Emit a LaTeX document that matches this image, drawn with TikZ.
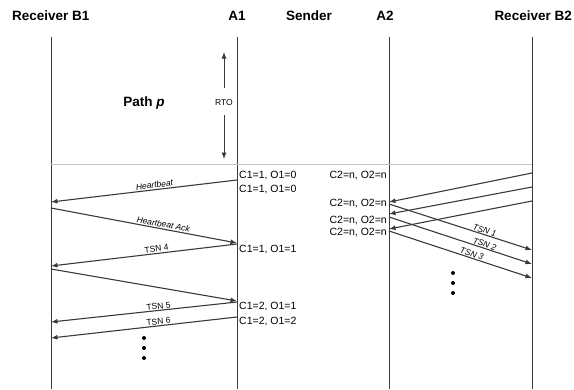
\documentclass[tikz,border=0pt]{standalone}
\usepackage{fontspec}
\setmainfont{Liberation Sans}
\usepackage{xcolor}
\usepackage{tikz}
\usetikzlibrary{positioning, arrows.meta, calc}

\definecolor{linegray}{HTML}{3A3A3A}
\definecolor{rulegray}{HTML}{C4C4C4}

\begin{document}
\begin{tikzpicture}[
        x=1pt, y=-1pt,
        header/.style={
          font=\bfseries\fontsize{13.5}{15}\selectfont,
          inner sep=0pt
        },
        lifeline/.style={draw=linegray, line width=0.9pt},
        msg/.style={
          draw=linegray,
          line width=1.1pt,
          -{Latex[length=6.5pt,width=5pt]}
        },
        msglabel/.style={
          font=\fontsize{8.5}{9}\selectfont,
          sloped,
          above,
          inner sep=1.2pt
        },
        counter/.style={
          font=\fontsize{10.5}{12}\selectfont,
          inner sep=0pt
        },
        dot/.style={circle, fill=black, inner sep=0pt, minimum size=4pt}
      ]
        \useasboundingbox (0,0) rectangle (574,389);

        % headers
        \node[header, anchor=west] (recvb1) at (12,16) {Receiver B1};
        \node[header] (pa1) at (237,16) {A1};
        \node[header] (sender) at (309,16) {Sender};
        \node[header] (pa2) at (385,16) {A2};
        \node[header, anchor=east] (recvb2) at (572,16) {Receiver B2};

        % lifelines
        \coordinate (b1top) at (51,37);
        \coordinate (b1bot) at (51,389);
        \coordinate (a1top) at (237,37);
        \coordinate (a1bot) at (237,389);
        \coordinate (a2top) at (389,37);
        \coordinate (a2bot) at (389,389);
        \coordinate (b2top) at (532,37);
        \coordinate (b2bot) at (532,389);
        \draw[lifeline] (b1top) -- (b1bot);
        \draw[lifeline] (a1top) -- (a1bot);
        \draw[lifeline] (a2top) -- (a2bot);
        \draw[lifeline] (b2top) -- (b2bot);

        % RTO marker
        \coordinate (rulel) at (51,164);
        \coordinate (ruler) at (532,164);
        \draw[rulegray, line width=0.8pt] (rulel) -- (ruler);
        \node[font=\bfseries\fontsize{13.5}{15}\selectfont] (pathp) at (144,103) {Path \textit{p}};
        \node[font=\fontsize{8.5}{9}\selectfont, inner sep=0pt] (rto) at (224,103) {RTO};
        \coordinate (rtotop) at (224,52);
        \coordinate (rtobot) at (224,159);
        \draw[msg, line width=0.9pt] ($(rto.north)+(0,-12)$) -- (rtotop);
        \draw[msg, line width=0.9pt] ($(rto.south)+(0,9)$) -- (rtobot);

        % path p: B1 <-> A1
        \coordinate (hbA) at (237,180);
        \coordinate (hbB) at (51,202);
        \coordinate (ackB) at (51,208);
        \coordinate (ackA) at (237,243);
        \coordinate (t4A) at (237,244);
        \coordinate (t4B) at (51,266);
        \coordinate (retB) at (51,269);
        \coordinate (retA) at (237,301);
        \coordinate (t5A) at (237,302);
        \coordinate (t5B) at (51,322);
        \coordinate (t6A) at (237,317);
        \coordinate (t6B) at (51,338);
        \draw[msg] (hbA) -- node[msglabel, pos=0.44] {\textit{Heartbeat}} (hbB);
        \draw[msg] (ackB) -- node[msglabel, pos=0.6] {\textit{Heartbeat Ack}} (ackA);
        \draw[msg] (t4A) -- node[msglabel, pos=0.43] {TSN 4} (t4B);
        \draw[msg] (retB) -- (retA);
        \draw[msg] (t5A) -- node[msglabel, pos=0.42, inner sep=0.6pt] {TSN 5} (t5B);
        \draw[msg] (t6A) -- node[msglabel, pos=0.42, inner sep=0.6pt] {TSN 6} (t6B);

        \node[counter, anchor=west] (c1a) at (239,176) {C1=1, O1=0};
        \node[counter, anchor=west] (c1b) at (239,190) {C1=1, O1=0};
        \node[counter, anchor=west] (c1c) at (239,250) {C1=1, O1=1};
        \node[counter, anchor=west] (c1d) at (239,307) {C1=2, O1=1};
        \node[counter, anchor=west] (c1e) at (239,322) {C1=2, O1=2};

        \node[dot] (ldot1) at (144,338) {};
        \node[dot] (ldot2) at (144,348) {};
        \node[dot] (ldot3) at (144,358) {};

        % A2 <-> B2
        \coordinate (s1B) at (532,173);
        \coordinate (s1A) at (389,202);
        \coordinate (s2B) at (532,187);
        \coordinate (s2A) at (389,214);
        \coordinate (s3B) at (532,201);
        \coordinate (s3A) at (389,229);
        \draw[msg] (s1B) -- (s1A);
        \draw[msg] (s2B) -- (s2A);
        \draw[msg] (s3B) -- (s3A);

        \coordinate (t1A) at (389,204);
        \coordinate (t1B) at (532,250);
        \coordinate (t2A) at (389,217);
        \coordinate (t2B) at (532,264);
        \coordinate (t3A) at (389,231);
        \coordinate (t3B) at (532,278);
        \draw[msg] (t1A) -- node[msglabel, pos=0.66, inner sep=0.6pt] {\textit{TSN 1}} (t1B);
        \draw[msg] (t2A) -- node[msglabel, pos=0.66, inner sep=0.6pt] {\textit{TSN 2}} (t2B);
        \draw[msg] (t3A) -- node[msglabel, pos=0.57, inner sep=0.6pt] {\textit{TSN 3}} (t3B);

        \node[counter, anchor=east] (c2a) at (387,176) {C2=n, O2=n};
        \node[counter, anchor=east] (c2b) at (387,204) {C2=n, O2=n};
        \node[counter, anchor=east] (c2c) at (387,221) {C2=n, O2=n};
        \node[counter, anchor=east] (c2d) at (387,233) {C2=n, O2=n};

        \node[dot] (rdot1) at (453,273) {};
        \node[dot] (rdot2) at (453,283) {};
        \node[dot] (rdot3) at (453,293) {};
      \end{tikzpicture}
\end{document}
